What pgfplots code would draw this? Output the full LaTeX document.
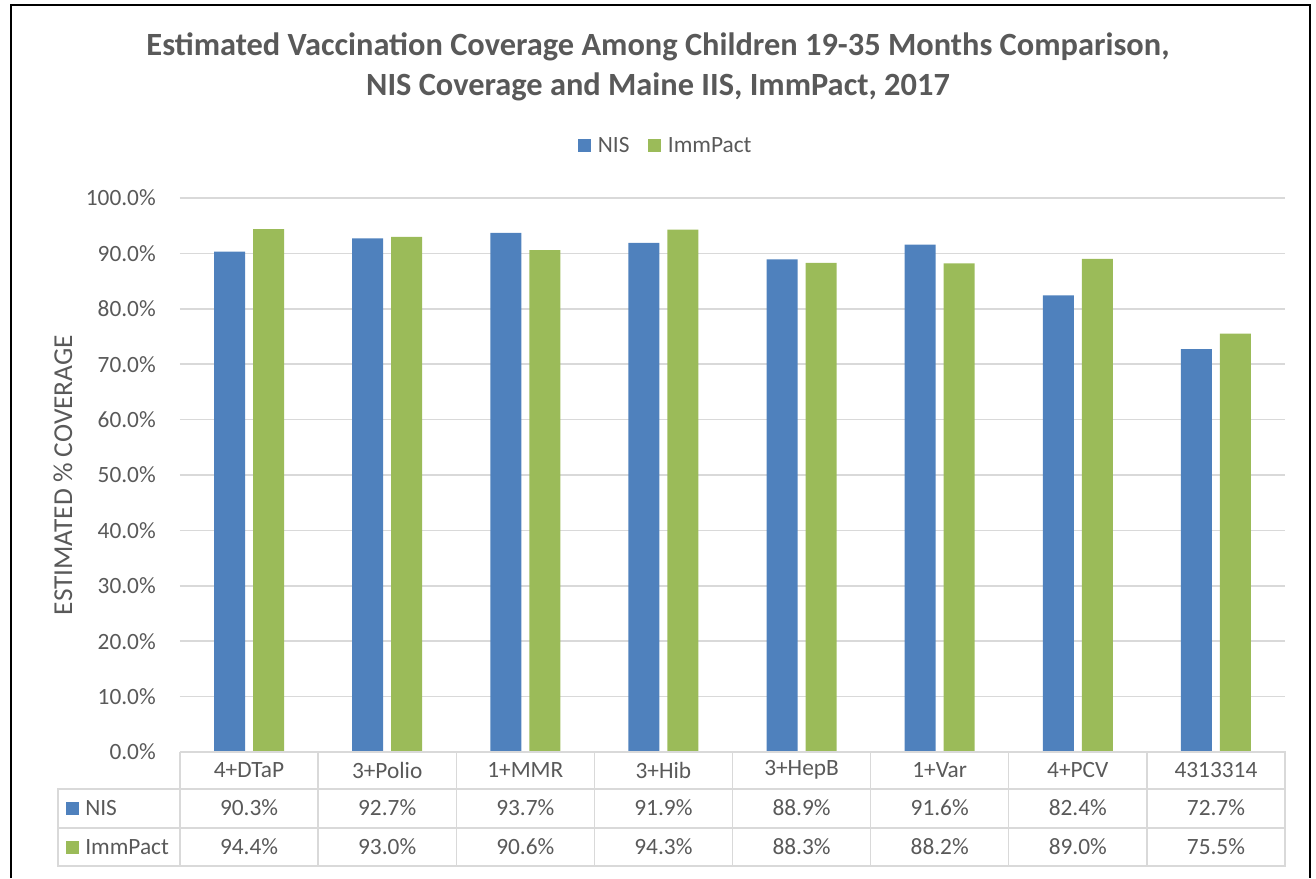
\documentclass[border=0pt]{standalone}
\usepackage{fontspec}
\setmainfont{Carlito}
\usepackage{pgfplots}
\usepackage{pgfplotstable}
\pgfplotsset{compat=1.18}
\definecolor{nisblue}{HTML}{4F81BD}
\definecolor{impgreen}{HTML}{9BBB59}
\definecolor{txt}{HTML}{595959}
\definecolor{gridc}{HTML}{D9D9D9}
\pgfkeys{/pgf/number format/assume math mode=true}

\pgfplotstableread{
cat NIS Imm
4+DTaP 90.3 94.4
3+Polio 92.7 93.0
1+MMR 93.7 90.6
3+Hib 91.9 94.3
3+HepB 88.9 88.3
1+Var 91.6 88.2
4+PCV 82.4 89.0
4313314 72.7 75.5
}\data

\begin{document}
\begin{tikzpicture}
\begin{axis}[
  at={(0,0)}, anchor=south west,
  scale only axis, width=828.75pt, height=415.5pt,
  xmin=-0.5, xmax=7.5, ymin=0, ymax=100,
  ytick={0,10,...,100},
  xtick=\empty,
  ymajorgrids, grid style={gridc, line width=1.1pt},
  axis line style={draw=none},
  major tick length=0pt,
  ybar=6pt, bar width=23.25pt,
  yticklabel={\pgfmathprintnumber[fixed,fixed zerofill,precision=1]{\tick}\%},
  /pgf/number format/assume math mode=true,
  yticklabel style={font=\fontsize{17.5}{20}\selectfont, text=txt, inner sep=0pt, xshift=-18pt},
  ylabel={ESTIMATED \% COVERAGE},
  ylabel style={at={(axis description cs:-0.106,0.5)}, anchor=center, font=\fontsize{20.5}{24}\selectfont, text=txt},
  legend style={at={(0.44,1.094)}, anchor=center, draw=none, fill=none,
    font=\fontsize{17.5}{20}\selectfont, text=txt,
    /tikz/every odd column/.append style={column sep=3pt},
    /tikz/every even column/.append style={column sep=12pt}},
  legend columns=-1,
  legend image code/.code={\path[#1] (0pt,-4.9pt) rectangle (9.75pt,4.9pt);},
  clip=false,
]
\addplot[fill=nisblue, draw=none] table[x expr=\coordindex, y=NIS]{\data};
\addplot[fill=impgreen, draw=none] table[x expr=\coordindex, y=Imm]{\data};
\legend{NIS, ImmPact}
\end{axis}
\begin{scope}[x=0.75pt,y=-0.75pt,shift={(-180,-752)}]
\useasboundingbox (0,0) rectangle (1316,878);
\draw[line width=1.5pt, black] (11,878) -- (11,5) -- (1310,5) -- (1310,878);
\node[font=\bfseries\fontsize{24.3}{30}\selectfont, text=txt, align=center] at (658,67)
  {Estimated Vaccination Coverage Among Children 19-35 Months Comparison,\\NIS Coverage and Maine IIS, ImmPact, 2017};
\draw[gridc, line width=1.1pt] (180,752) -- (1285,752) -- (1285,866) -- (58,866) -- (58,789) -- (1285,789);
\draw[gridc, line width=1.1pt] (58,828) -- (1285,828);
\foreach \k in {0,...,7} {\draw[gridc, line width=1.1pt] ({180+138.125*\k},752) -- ({180+138.125*\k},866);}
\foreach \i in {0,...,7} {
  \pgfplotstablegetelem{\i}{cat}\of\data
  \node[font=\fontsize{17.5}{20}\selectfont, text=txt] at ({249.06+138.125*\i},770) {\pgfplotsretval};
  \pgfplotstablegetelem{\i}{NIS}\of\data
  \node[font=\fontsize{17.5}{20}\selectfont, text=txt] at ({249.06+138.125*\i},808) {\pgfmathprintnumber[fixed,fixed zerofill,precision=1]{\pgfplotsretval}\%};
  \pgfplotstablegetelem{\i}{Imm}\of\data
  \node[font=\fontsize{17.5}{20}\selectfont, text=txt] at ({249.06+138.125*\i},847) {\pgfmathprintnumber[fixed,fixed zerofill,precision=1]{\pgfplotsretval}\%};
}
\fill[nisblue] (66,802) rectangle (79,815);
\node[font=\fontsize{17.5}{20}\selectfont, text=txt, anchor=west, inner sep=0pt] at (85,808) {NIS};
\fill[impgreen] (66,841) rectangle (79,854);
\node[font=\fontsize{17.5}{20}\selectfont, text=txt, anchor=west, inner sep=0pt] at (85,847) {ImmPact};
\end{scope}
\end{tikzpicture}
\end{document}
